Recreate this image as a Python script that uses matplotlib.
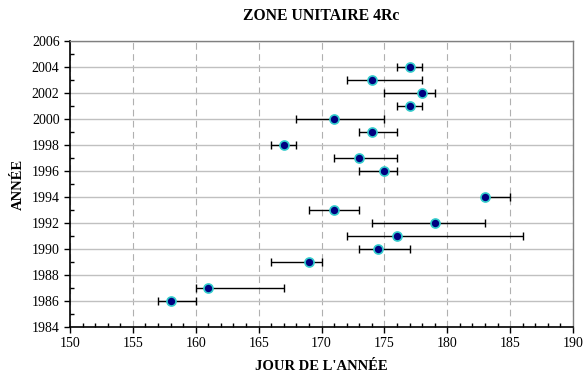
import matplotlib
matplotlib.use("Agg")
import matplotlib.pyplot as plt
from matplotlib.ticker import MultipleLocator

years = [2004, 2003, 2002, 2001, 2000, 1999, 1998, 1997, 1996, 1994, 1993, 1992, 1991, 1990, 1989, 1987, 1986]
day = [177, 174, 178, 177, 171, 174, 167, 173, 175, 183, 171, 179, 176, 174.5, 169, 161, 158]
low = [176, 172, 175, 176, 168, 173, 166, 171, 173, 183, 169, 174, 172, 173, 166, 160, 157]
high = [178, 178, 179, 178, 175, 176, 168, 176, 176, 185, 173, 183, 186, 177, 170, 167, 160]

plt.rcParams['font.family'] = ['Liberation Serif', 'DejaVu Serif']

fig = plt.figure(figsize=(5.84, 3.77), dpi=100)
ax = fig.add_axes([0.1199, 0.1326, 0.8613, 0.7586])

xerr = [[d - l for d, l in zip(day, low)], [h - d for d, h in zip(day, high)]]
ax.errorbar(day, years, xerr=xerr, fmt='none', ecolor='black', elinewidth=1.0,
            capsize=3, capthick=1.0, zorder=3)
ax.plot(day, years, 'o', markersize=6.5, markerfacecolor='#000080',
        markeredgecolor='#33CCCC', markeredgewidth=1.2, linestyle='none', zorder=4)

ax.set_xlim(150, 190)
ax.set_ylim(1984, 2006)
ax.xaxis.set_major_locator(MultipleLocator(5))
ax.xaxis.set_minor_locator(MultipleLocator(1))
ax.yaxis.set_major_locator(MultipleLocator(2))
ax.yaxis.set_minor_locator(MultipleLocator(1))

ax.grid(axis='y', which='major', color='#C0C0C0', linestyle='-', linewidth=1.0)
ax.grid(axis='x', which='major', color='#B0B0B0', linestyle=(0, (6, 4)), linewidth=0.8)
ax.set_axisbelow(True)

ax.tick_params(axis='both', which='major', direction='out', length=4, width=1,
               labelsize=10, colors='black')
ax.tick_params(axis='both', which='minor', direction='in', length=3, width=1)

for s in ['left', 'bottom']:
    ax.spines[s].set_color('black')
    ax.spines[s].set_linewidth(1.2)
for s in ['top', 'right']:
    ax.spines[s].set_color('#808080')
    ax.spines[s].set_linewidth(1.0)

ax.set_title("ZONE UNITAIRE 4Rc", fontsize=11.3, fontweight='bold', pad=15)
ax.set_xlabel("JOUR DE L'ANNÉE", fontsize=10.5, fontweight='bold', labelpad=7)
ax.set_ylabel("ANNÉE", fontsize=10.5, fontweight='bold', labelpad=5)

fig.savefig("out.png", dpi=100)
